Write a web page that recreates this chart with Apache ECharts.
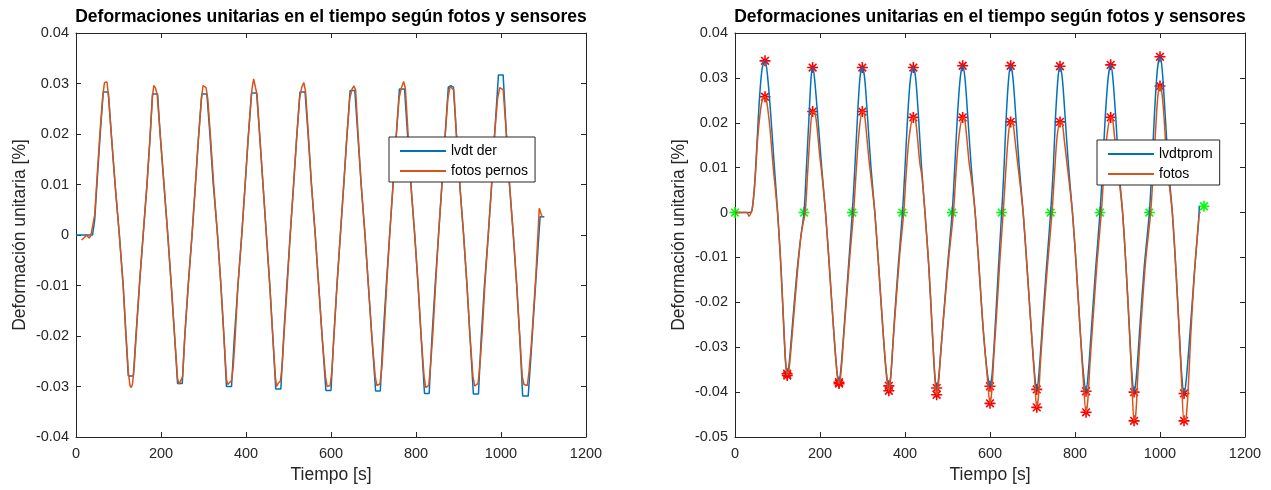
<!DOCTYPE html>
<html>
<head>
<meta charset="utf-8">
<script src="https://cdn.jsdelivr.net/npm/echarts@6/dist/echarts.min.js"></script>
<style>
  html, body { margin: 0; padding: 0; background: #fff; }
  #chart { width: 1271px; height: 490px; }
</style>
</head>
<body>
<div id="chart"></div>
<script>
// datos: [tiempo (s), deformacion (%)]
const lvdtDer = [
  [0, 0], [39, 0], [44, 0.003], [50, 0.011], [57, 0.020], [64, 0.0283], [76, 0.0283], [83, 0.020], [92, 0.010], [102, 0],
  [111, -0.010], [117, -0.019], [123, -0.0279], [135, -0.0279], [141, -0.020], [150, -0.009], [158, 0], [167, 0.010],
  [174, 0.019], [180, 0.0279], [192, 0.0279], [198, 0.020], [207, 0.010], [216, 0], [225, -0.011], [232, -0.020],
  [239, -0.0294], [250, -0.0294], [256, -0.020], [264, -0.010], [273, 0], [281, 0.010], [288, 0.019], [296, 0.0279],
  [308, 0.0279], [315, 0.020], [323, 0.010], [333, 0], [341, -0.010], [348, -0.020], [354, -0.0300], [366, -0.0300],
  [372, -0.021], [381, -0.010], [390, 0], [398, 0.010], [405, 0.019], [413, 0.0281], [425, 0.0281], [432, 0.020],
  [440, 0.010], [448, 0], [456, -0.010], [463, -0.020], [470, -0.0305], [482, -0.0305], [488, -0.021], [496, -0.010],
  [504, 0], [512, 0.010], [519, 0.019], [527, 0.0283], [539, 0.0283], [546, 0.020], [554, 0.010], [563, 0],
  [571, -0.010], [579, -0.020], [588, -0.0308], [600, -0.0308], [606, -0.021], [614, -0.010], [622, 0], [630, 0.010],
  [637, 0.019], [645, 0.0286], [656, 0.0286], [663, 0.020], [671, 0.010], [680, 0], [688, -0.010], [696, -0.020],
  [705, -0.0309], [716, -0.0309], [722, -0.021], [730, -0.010], [738, 0], [746, 0.010], [753, 0.019], [761, 0.0289],
  [773, 0.0289], [780, 0.020], [788, 0.010], [797, 0], [805, -0.010], [812, -0.020], [820, -0.0314], [831, -0.0314],
  [837, -0.021], [845, -0.010], [853, 0], [861, 0.010], [868, 0.019], [876, 0.0293], [882, 0.0296], [888, 0.0293],
  [895, 0.020], [903, 0.010], [912, 0], [920, -0.010], [927, -0.020], [935, -0.0315], [947, -0.0315], [953, -0.021],
  [961, -0.010], [970, 0], [978, 0.010], [985, 0.020], [994, 0.0317], [1005, 0.0317], [1012, 0.021], [1020, 0.010],
  [1029, 0], [1037, -0.010], [1044, -0.020], [1051, -0.0319], [1064, -0.0319], [1072, -0.022], [1082, -0.009],
  [1092, 0.0036], [1102, 0.0036]
];
const fotosPernos = [
  [13, -0.0010], [17, -0.0013], [21, -0.0004], [24, 0], [28, -0.0003], [31, -0.0006], [35, -0.0001], [39, 0.0002],
  [44, 0.004], [50, 0.012], [57, 0.021], [63, 0.0275], [67, 0.0302], [70, 0.0304], [73, 0.0303], [77, 0.027],
  [83, 0.020], [92, 0.010], [102, 0], [111, -0.010], [117, -0.019], [123, -0.027], [127, -0.0298], [130, -0.0302],
  [133, -0.0295], [137, -0.026], [143, -0.018], [150, -0.009], [158, 0], [167, 0.010], [174, 0.019], [180, 0.0275],
  [183, 0.0296], [187, 0.0291], [191, 0.0278], [198, 0.020], [207, 0.010], [216, 0], [225, -0.011], [232, -0.020],
  [239, -0.0285], [243, -0.0295], [247, -0.0294], [251, -0.028], [256, -0.020], [264, -0.010], [273, 0], [281, 0.010],
  [288, 0.019], [295, 0.027], [299, 0.0296], [303, 0.0297], [306, 0.0292], [310, 0.027], [316, 0.020], [324, 0.010],
  [333, 0], [341, -0.010], [348, -0.020], [354, -0.0285], [357, -0.0296], [361, -0.0293], [366, -0.0288], [370, -0.026],
  [374, -0.021], [381, -0.010], [390, 0], [398, 0.010], [405, 0.019], [412, 0.027], [415, 0.0295], [418, 0.0309],
  [421, 0.0297], [426, 0.0278], [432, 0.020], [440, 0.010], [448, 0], [456, -0.010], [463, -0.020], [469, -0.028],
  [472, -0.0300], [476, -0.0293], [481, -0.0289], [485, -0.026], [490, -0.019], [497, -0.010], [504, 0], [512, 0.010],
  [519, 0.019], [526, 0.027], [531, 0.0292], [536, 0.0302], [540, 0.0285], [546, 0.021], [554, 0.010], [563, 0],
  [571, -0.010], [579, -0.020], [587, -0.028], [591, -0.0300], [594, -0.0302], [598, -0.0298], [602, -0.027],
  [607, -0.020], [614, -0.010], [622, 0], [630, 0.010], [637, 0.019], [644, 0.027], [650, 0.0290], [654, 0.0295],
  [658, 0.0287], [663, 0.021], [671, 0.010], [680, 0], [688, -0.010], [696, -0.020], [704, -0.028], [708, -0.0298],
  [711, -0.0300], [715, -0.0295], [720, -0.026], [725, -0.019], [731, -0.010], [738, 0], [746, 0.010], [753, 0.019],
  [760, 0.027], [765, 0.0290], [771, 0.0304], [775, 0.0290], [780, 0.022], [788, 0.010], [797, 0], [805, -0.010],
  [812, -0.020], [819, -0.028], [823, -0.0302], [826, -0.0304], [830, -0.0298], [835, -0.025], [840, -0.019],
  [846, -0.010], [853, 0], [861, 0.010], [868, 0.019], [875, 0.027], [880, 0.0294], [884, 0.0295], [889, 0.0287],
  [895, 0.020], [903, 0.010], [912, 0], [920, -0.010], [927, -0.020], [934, -0.028], [938, -0.0299], [942, -0.0300],
  [946, -0.0294], [951, -0.025], [956, -0.019], [962, -0.010], [970, 0], [978, 0.010], [985, 0.020], [992, 0.027],
  [997, 0.0292], [1001, 0.0295], [1005, 0.0288], [1011, 0.022], [1020, 0.010], [1029, 0], [1037, -0.010],
  [1044, -0.020], [1050, -0.028], [1054, -0.0296], [1058, -0.0297], [1062, -0.0298], [1066, -0.027], [1072, -0.021],
  [1082, -0.008], [1090, 0.0053], [1093, 0.0045], [1097, 0.0035]
];
const lvdtProm = [
  [0, 0], [36, 0], [40, 0.0005], [46, 0.006], [52, 0.016], [58, 0.026], [64, 0.0322], [70.6, 0.0338], [76, 0.031],
  [84, 0.022], [92, 0.011], [100.4, 0], [108, -0.012], [115, -0.026], [119, -0.0335], [122.5, -0.0360], [127, -0.034],
  [136, -0.024], [146, -0.013], [154, -0.006], [162.3, 0], [168, 0.010], [174, 0.021], [179, 0.030], [182.7, 0.0323],
  [187, 0.030], [195, 0.021], [204, 0.010], [213, 0], [222, -0.012], [232, -0.026], [240, -0.0355], [244.7, -0.0378],
  [249, -0.035], [258, -0.024], [267, -0.012], [276, 0], [282, 0.010], [288, 0.021], [294, 0.030], [299.6, 0.0323],
  [305, 0.030], [312, 0.021], [320, 0.010], [329, 0], [338, -0.012], [348, -0.026], [356, -0.0355], [362, -0.0386],
  [367, -0.036], [375, -0.024], [384, -0.012], [394, 0], [400, 0.010], [406, 0.021], [413, 0.030], [419.6, 0.0323],
  [425, 0.030], [432, 0.021], [439, 0.010], [447, 0], [456, -0.012], [464, -0.026], [470, -0.036], [474.5, -0.0391],
  [480, -0.036], [490, -0.024], [500, -0.012], [511, 0], [517, 0.010], [523, 0.021], [530, 0.030], [535.7, 0.0327],
  [541, 0.030], [548, 0.021], [556, 0.010], [565, 0], [574, -0.012], [584, -0.026], [594, -0.036], [600, -0.0387],
  [605, -0.036], [613, -0.024], [620, -0.012], [627.5, 0], [633, 0.010], [638, 0.021], [644, 0.030], [648.6, 0.0327],
  [654, 0.030], [661, 0.021], [669, 0.010], [678, 0], [687, -0.012], [697, -0.026], [705, -0.036], [710, -0.0394],
  [715, -0.036], [724, -0.024], [733, -0.012], [742.7, 0], [749, 0.010], [754, 0.021], [760, 0.030], [764.7, 0.0326],
  [770, 0.030], [777, 0.021], [785, 0.010], [794, 0], [803, -0.012], [812, -0.026], [820, -0.036], [826, -0.0398],
  [831, -0.036], [840, -0.024], [849, -0.012], [858.8, 0], [865, 0.010], [871, 0.021], [878, 0.030], [884, 0.0329],
  [889, 0.030], [896, 0.021], [903, 0.010], [912, 0], [920, -0.012], [928, -0.026], [934, -0.036], [939, -0.0400],
  [944, -0.037], [953, -0.025], [963, -0.012], [975, 0], [981, 0.010], [987, 0.022], [994, 0.032], [1000, 0.0347],
  [1005, 0.032], [1012, 0.022], [1020, 0.010], [1029, 0], [1037, -0.012], [1045, -0.026], [1051, -0.036],
  [1056.5, -0.0403], [1062, -0.037], [1072, -0.025], [1082, -0.012], [1090, -0.003], [1092.5, 0.0014]
];
const fotos = [
  [0, 0], [28, 0], [33, -0.0008], [37, -0.0002], [41, 0.001], [47, 0.007], [53, 0.016], [59, 0.022], [65, 0.0254],
  [70.6, 0.0258], [75, 0.0245], [82, 0.019], [90, 0.010], [100, 0], [108, -0.012], [115, -0.026], [119, -0.033],
  [123, -0.0362], [127, -0.035], [133, -0.029], [140, -0.021], [149, -0.011], [157, -0.004], [165, 0], [171, 0.009],
  [177, 0.018], [182.7, 0.0225], [188, 0.0222], [193, 0.019], [199, 0.013], [205, 0.008], [213, 0], [222, -0.012],
  [232, -0.026], [240, -0.0357], [244.7, -0.0381], [249, -0.036], [254, -0.030], [261, -0.021], [270, -0.010], [279, 0],
  [285, 0.009], [292, 0.018], [299.6, 0.0225], [304, 0.0222], [309, 0.018], [316, 0.011], [321, 0.007], [329, 0],
  [338, -0.012], [348, -0.026], [356, -0.036], [362, -0.0397], [366, -0.037], [371, -0.030], [378, -0.021],
  [387, -0.010], [397, 0], [403, 0.009], [410, 0.017], [419.6, 0.0212], [424, 0.021], [429, 0.017], [435, 0.011],
  [440, 0.008], [447, 0], [456, -0.012], [464, -0.026], [470, -0.0365], [474.5, -0.0406], [479, -0.038], [484, -0.031],
  [492, -0.022], [502, -0.011], [514, 0], [520, 0.009], [527, 0.017], [535.7, 0.0212], [540, 0.021], [545, 0.017],
  [551, 0.011], [557, 0.007], [565, 0], [574, -0.012], [584, -0.026], [594, -0.037], [600, -0.0425], [604, -0.040],
  [609, -0.032], [616, -0.022], [623, -0.011], [631, 0], [637, 0.009], [643, 0.017], [648.6, 0.0202], [654, 0.0198],
  [659, 0.016], [665, 0.011], [670, 0.007], [678, 0], [687, -0.012], [697, -0.026], [705, -0.037], [710, -0.0434],
  [714, -0.041], [719, -0.033], [727, -0.022], [736, -0.011], [746, 0], [752, 0.009], [758, 0.017], [764.7, 0.0202],
  [770, 0.0198], [775, 0.016], [781, 0.011], [786, 0.007], [794, 0], [803, -0.012], [812, -0.026], [820, -0.038],
  [826, -0.0445], [830, -0.042], [835, -0.034], [843, -0.023], [852, -0.011], [862, 0], [868, 0.009], [875, 0.017],
  [884, 0.0212], [888, 0.021], [893, 0.017], [899, 0.011], [904, 0.007], [912, 0], [920, -0.012], [928, -0.026],
  [934, -0.038], [939, -0.0464], [943, -0.045], [948, -0.036], [956, -0.024], [966, -0.011], [978, 0], [984, 0.009],
  [990, 0.019], [995, 0.026], [1000, 0.0282], [1004, 0.027], [1009, 0.022], [1015, 0.013], [1021, 0.007], [1029, 0],
  [1037, -0.012], [1045, -0.026], [1051, -0.038], [1056.5, -0.0464], [1061, -0.046], [1066, -0.040], [1072, -0.028],
  [1080, -0.015], [1088, -0.005], [1094, 0], [1096, 0]
];
// maximos y minimos marcados con asterisco rojo
const picos = [
  [70.6, 0.0338], [182.7, 0.0323], [299.6, 0.0323], [419.6, 0.0323], [535.7, 0.0327], [648.6, 0.0327], [764.7, 0.0326],
  [884, 0.0329], [1000, 0.0347],
  [70.6, 0.0258], [182.7, 0.0225], [299.6, 0.0225], [419.6, 0.0212], [535.7, 0.0212], [648.6, 0.0202], [764.7, 0.0202],
  [884, 0.0212], [1000, 0.0282],
  [122.5, -0.0359], [244.7, -0.0378], [362, -0.0386], [474.5, -0.0391], [600, -0.0387], [710, -0.0394], [826, -0.0398],
  [939, -0.0400], [1056.5, -0.0403],
  [123, -0.0363], [244.7, -0.0381], [362, -0.0397], [474.5, -0.0406], [600, -0.0425], [710, -0.0434], [826, -0.0445],
  [939, -0.0464], [1056.5, -0.0464]
];
// cruces por cero marcados con asterisco verde
const ceros = [
  [0, 0], [162.3, 0], [276, 0], [394, 0], [511, 0], [627.5, 0], [742.7, 0], [858.8, 0], [975, 0], [1103.5, 0.0014]
];

const fuente = 'Liberation Sans, Arial, sans-serif';
const gris = '#262626';
const azul = '#0072BD';
const naranja = '#D95319';
const asterisco = 'path://M0 5L10 5M5 0L5 10M1.5 1.5L8.5 8.5M1.5 8.5L8.5 1.5';

function ejeX(grid, pos, conTexto) {
  return {
    type: 'value', gridIndex: grid, position: pos, min: 0, max: 1200, interval: 200,
    axisLine: { show: true, onZero: false, lineStyle: { color: gris, width: 1 } },
    axisTick: { show: true, inside: true, length: 5, lineStyle: { color: gris } },
    axisLabel: { show: conTexto, color: gris, fontSize: 14.5, margin: 9, fontFamily: fuente, formatter: (v) => String(v) },
    splitLine: { show: false },
    name: conTexto ? 'Tiempo [s]' : '', nameLocation: 'middle', nameGap: 28,
    nameTextStyle: { color: gris, fontSize: 17.5, fontFamily: fuente },
  }
}
function ejeY(grid, pos, min, conTexto) {
  return {
    type: 'value', gridIndex: grid, position: pos, min: min, max: 0.04, interval: 0.01,
    axisLine: { show: true, onZero: false, lineStyle: { color: gris, width: 1 } },
    axisTick: { show: true, inside: true, length: 5, lineStyle: { color: gris } },
    axisLabel: {
      show: conTexto, color: gris, fontSize: 14.5, margin: 7, fontFamily: fuente,
      formatter: (v) => (Math.abs(v) < 1e-9 ? '0' : v.toFixed(2)),
    },
    splitLine: { show: false },
    name: conTexto ? 'Deformación unitaria [%]' : '', nameLocation: 'middle', nameGap: 47,
    nameTextStyle: { color: gris, fontSize: 17.5, fontFamily: fuente },
  }
}
function leyenda(nombres, x, y) {
  return {
    data: nombres, orient: 'vertical', left: x, top: y, padding: [7, 7, 4, 10],
    itemWidth: 46, itemHeight: 14, itemGap: 6, borderColor: gris, borderWidth: 1, backgroundColor: '#fff',
    borderRadius: 0, selectedMode: false,
    itemStyle: { opacity: 0 },
    textStyle: { fontSize: 14, color: '#000', fontFamily: fuente },
  }
}
function linea(nombre, datos, color, eje, suave) {
  return {
    name: nombre, type: 'line', xAxisIndex: eje, yAxisIndex: eje, data: datos,
    symbol: 'none', smooth: suave, lineStyle: { color: color, width: 1.5 }, itemStyle: { color: color },
  }
}
function estrellas(datos, color) {
  return {
    type: 'scatter', xAxisIndex: 2, yAxisIndex: 2, data: datos, symbol: asterisco, symbolSize: 11,
    itemStyle: { color: 'rgba(0,0,0,0)', borderColor: color, borderWidth: 1.6, opacity: 1 },
  }
}

const titulo = 'Deformaciones unitarias en el tiempo según fotos y sensores';
const myChart = echarts.init(document.getElementById('chart'))
myChart.setOption({
  animation: false,
  backgroundColor: '#fff',
  textStyle: { fontFamily: fuente },
  title: [
    { text: titulo, left: 331, top: 8, textAlign: 'center', padding: 0,
      textStyle: { fontSize: 17.5, fontWeight: 'bold', color: '#000', fontFamily: fuente } },
    { text: titulo, left: 990, top: 8, textAlign: 'center', padding: 0,
      textStyle: { fontSize: 17.5, fontWeight: 'bold', color: '#000', fontFamily: fuente } },
  ],
  legend: [leyenda(['lvdt der', 'fotos pernos'], 389, 137), leyenda(['lvdtprom', 'fotos'], 1097, 140)],
  grid: [
    { left: 76, right: 685, top: 33, bottom: 53 },
    { left: 735, right: 26, top: 33, bottom: 53 },
  ],
  xAxis: [ejeX(0, 'bottom', true), ejeX(0, 'top', false), ejeX(1, 'bottom', true), ejeX(1, 'top', false)],
  yAxis: [ejeY(0, 'left', -0.04, true), ejeY(0, 'right', -0.04, false), ejeY(1, 'left', -0.05, true), ejeY(1, 'right', -0.05, false)],
  series: [
    linea('lvdt der', lvdtDer, azul, 0, false),
    linea('fotos pernos', fotosPernos, naranja, 0, false),
    linea('lvdtprom', lvdtProm, azul, 2, 0.3),
    linea('fotos', fotos, naranja, 2, 0.3),
    estrellas(picos, '#ff0000'),
    estrellas(ceros, '#00ff00'),
  ],
})
</script>
</body>
</html>
